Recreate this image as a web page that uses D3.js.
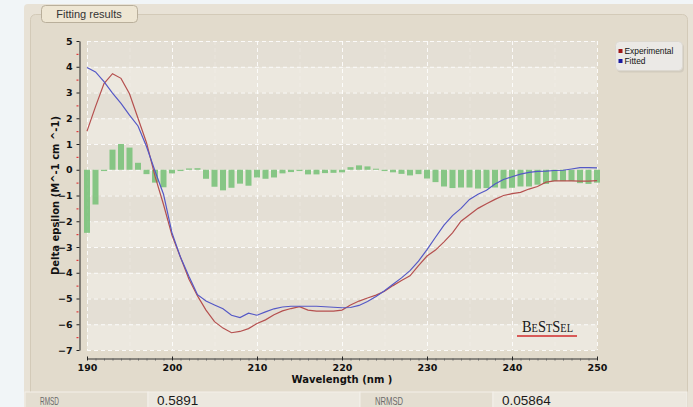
<!DOCTYPE html>
<html>
<head>
<meta charset="utf-8">
<script src="https://cdn.jsdelivr.net/npm/d3@7"></script>
<style>
  html, body { margin: 0; padding: 0; background: #f1f5f7; }
  svg { display: block; }
</style>
</head>
<body>
<svg id="chart" width="693" height="407"></svg>
<script>
// ---------- DATA ----------
const wavelengths = d3.range(190, 251); // 190..250 nm, 1 nm steps (axis categories)
const experimental = [
  1.5, 2.45, 3.35, 3.73, 3.55, 2.95, 2.0, 1.05, -0.25, -1.35,
  -2.55, -3.4, -4.25, -4.9, -5.45, -5.9, -6.15, -6.33, -6.28, -6.17,
  -5.97, -5.83, -5.63, -5.48, -5.39, -5.32, -5.45, -5.49, -5.49, -5.49,
  -5.45, -5.25, -5.1, -4.98, -4.87, -4.72, -4.5, -4.3, -4.12, -3.72,
  -3.35, -3.12, -2.8, -2.45, -2.0, -1.75, -1.5, -1.32, -1.15, -1.0,
  -0.93, -0.88, -0.75, -0.65, -0.48, -0.43, -0.43, -0.43, -0.44, -0.44,
  -0.42
];
const fitted = [
  3.97, 3.80, 3.42, 2.98, 2.58, 2.12, 1.7, 0.9, -0.05, -0.95,
  -2.45, -3.4, -4.15, -4.85, -5.1, -5.25, -5.4, -5.65, -5.74, -5.57,
  -5.65, -5.52, -5.4, -5.33, -5.3, -5.3, -5.3, -5.3, -5.32, -5.34,
  -5.36, -5.35, -5.27, -5.12, -4.92, -4.7, -4.45, -4.2, -3.92, -3.55,
  -3.1, -2.62, -2.15, -1.78, -1.5, -1.15, -0.95, -0.8, -0.55, -0.38,
  -0.27, -0.17, -0.1, -0.06, -0.05, -0.03, -0.02, 0.03, 0.08, 0.08,
  0.07
];
const residuals = [
  -2.45, -1.35, -0.05, 0.78, 1.0, 0.86, 0.27, -0.17, -0.5, -0.68,
  -0.14, -0.05, 0.05, 0.06, -0.35, -0.66, -0.8, -0.7, -0.54, -0.62,
  -0.3, -0.35, -0.3, -0.14, -0.09, -0.05, -0.18, -0.18, -0.13, -0.12,
  -0.1, 0.1, 0.17, 0.13, 0.04, -0.05, -0.1, -0.16, -0.22, -0.17,
  -0.34, -0.48, -0.65, -0.71, -0.69, -0.69, -0.73, -0.71, -0.69, -0.73,
  -0.7, -0.65, -0.65, -0.58, -0.55, -0.44, -0.44, -0.44, -0.52, -0.55,
  -0.5
];
const yTicks = [-7, -6, -5, -4, -3, -2, -1, 0, 1, 2, 3, 4, 5];
const yMinorTicks = [-6.5, -5.5, -4.5, -3.5, -2.5, -1.5, -0.5, 0.5, 1.5, 2.5, 3.5, 4.5];
const xTicks = [190, 200, 210, 220, 230, 240, 250];
const xMinorGrid = [195, 205, 215, 225, 235, 245];
const seriesNames = ["Experimental", "Fitted"];
const statLabels = ["RMSD", "NRMSD"];
const statValues = ["0.5891", "0.05864"];
const panelTitle = "Fitting results";
const xTitle = "Wavelength (nm )";
const yTitle = "Delta epsilon (M^-1 cm ^-1)";

// ---------- LAYOUT ----------
const svg = d3.select("#chart");
const W = 693, H = 407;
const plot = { left: 87, right: 597, top: 41, bottom: 350 };
const x = d3.scaleLinear().domain([190, 250]).range([plot.left, plot.right]);
const y = d3.scaleLinear().domain([-7, 5]).range([plot.bottom, plot.top]);
const colExp = "#b5504f", colFit = "#5458c6";

// background / panels
svg.append("rect").attr("width", W).attr("height", H).attr("fill", "#f1f5f7");
svg.append("rect").attr("x", 24).attr("y", 4).attr("width", 680).attr("height", 420)
  .attr("rx", 4).attr("fill", "#e8e2d6");
svg.append("rect").attr("x", 30.5).attr("y", 14.5).attr("width", 657).attr("height", 420)
  .attr("rx", 5).attr("fill", "#e2dbcc").attr("stroke", "#d3cab8");

// tab
svg.append("rect").attr("x", 41.5).attr("y", 5.5).attr("width", 96).attr("height", 17)
  .attr("rx", 4).attr("fill", "#eee6d3").attr("stroke", "#b9af9b");
svg.append("text").attr("x", 89).attr("y", 18).attr("text-anchor", "middle")
  .attr("font-family", "Liberation Sans, Arial, sans-serif").attr("font-size", 11)
  .attr("fill", "#333").text(panelTitle);

// plot stripes
const bands = yTicks.slice(0, -1);
svg.append("g").selectAll("rect").data(bands).join("rect")
  .attr("x", plot.left).attr("width", plot.right - plot.left)
  .attr("y", d => y(d + 1)).attr("height", d => y(d) - y(d + 1))
  .attr("fill", d => (Math.abs(d) % 2 === 0) ? "#e4dfd5" : "#ece8df");

// grid
const grid = svg.append("g").attr("stroke", "#ffffff").attr("stroke-dasharray", "4,3").attr("fill", "none");
grid.selectAll("line.h").data(yTicks).join("line").attr("class", "h")
  .attr("x1", plot.left).attr("x2", plot.right)
  .attr("y1", d => y(d) + 0.5).attr("y2", d => y(d) + 0.5).attr("stroke-opacity", 0.85);
grid.selectAll("line.v").data(xTicks).join("line").attr("class", "v")
  .attr("y1", plot.top).attr("y2", plot.bottom)
  .attr("x1", d => x(d) + 0.5).attr("x2", d => x(d) + 0.5).attr("stroke-opacity", 0.85);
grid.selectAll("line.vm").data(xMinorGrid).join("line").attr("class", "vm")
  .attr("y1", plot.top).attr("y2", plot.bottom)
  .attr("x1", d => x(d) + 0.5).attr("x2", d => x(d) + 0.5).attr("stroke-opacity", 0.22);

// residual bars
const barData = wavelengths.map((w, i) => ({ w, v: residuals[i] }));
svg.append("g").selectAll("rect").data(barData).join("rect")
  .attr("x", d => x(d.w) - 3).attr("width", 6)
  .attr("y", d => Math.min(y(0), y(d.v)))
  .attr("height", d => Math.max(1, Math.abs(y(d.v) - y(0))))
  .attr("fill", "#7bc27b").attr("fill-opacity", 0.9);

// lines
const line = d3.line().x(d => x(d[0])).y(d => y(d[1]));
svg.append("path").datum(wavelengths.map((w, i) => [w, experimental[i]]))
  .attr("d", line).attr("fill", "none").attr("stroke", colExp).attr("stroke-width", 1.2);
svg.append("path").datum(wavelengths.map((w, i) => [w, fitted[i]]))
  .attr("d", line).attr("fill", "none").attr("stroke", colFit).attr("stroke-width", 1.2);

// y axis
const yAxisX = 79.5;
const yAx = svg.append("g").attr("transform", `translate(${yAxisX},0)`)
  .call(d3.axisLeft(y).tickValues(yTicks).tickSize(3).tickPadding(4).tickSizeOuter(0).tickFormat(d3.format("d")));
yAx.select(".domain").attr("stroke", "#222");
yAx.selectAll(".tick line").attr("stroke", "#222");
yAx.selectAll("text").attr("font-family", "DejaVu Sans, sans-serif").attr("font-weight", "bold")
  .attr("font-size", 9.5).attr("fill", "#111");
svg.append("g").selectAll("line").data(yMinorTicks).join("line")
  .attr("x1", yAxisX - 3).attr("x2", yAxisX - 1)
  .attr("y1", d => y(d) + 0.5).attr("y2", d => y(d) + 0.5)
  .attr("stroke", "#e03a3a").attr("stroke-width", 1.2);

// x axis
const xAxisY = 358.5;
const xAx = svg.append("g").attr("transform", `translate(0,${xAxisY})`)
  .call(d3.axisBottom(x).tickValues(xTicks).tickSize(2).tickPadding(4).tickSizeOuter(0).tickFormat(d3.format("d")));
xAx.select(".domain").attr("stroke", "#333");
xAx.selectAll(".tick line").attr("y1", -2).attr("stroke", "#222");
xAx.selectAll("text").attr("font-family", "DejaVu Sans, sans-serif").attr("font-weight", "bold")
  .attr("font-size", 9.5).attr("fill", "#111");
svg.append("g").selectAll("line").data(wavelengths.filter(w => w % 10 !== 0)).join("line")
  .attr("x1", d => x(d) + 0.5).attr("x2", d => x(d) + 0.5)
  .attr("y1", xAxisY).attr("y2", xAxisY + 2).attr("stroke", "#666");

// axis titles
svg.append("text").attr("x", 342).attr("y", 382.5).attr("text-anchor", "middle")
  .attr("font-family", "DejaVu Sans, sans-serif").attr("font-weight", "bold").attr("font-size", 10)
  .attr("fill", "#111").text(xTitle);
svg.append("text").attr("transform", "translate(58.5,195.5) rotate(-90)").attr("text-anchor", "middle")
  .attr("font-family", "DejaVu Sans, sans-serif").attr("font-weight", "bold").attr("font-size", 10)
  .attr("fill", "#111").text(yTitle);

// legend
const lg = svg.append("g");
lg.append("rect").attr("x", 617).attr("y", 43.5).attr("width", 67).attr("height", 29).attr("rx", 4)
  .attr("fill", "#c8c2b6").attr("opacity", 0.6);
lg.append("rect").attr("x", 615.5).attr("y", 41.5).attr("width", 67).attr("height", 29).attr("rx", 4)
  .attr("fill", "#ebe9e6").attr("stroke", "#dcd8d0");
[colExp, colFit].forEach((c, i) => {
  lg.append("rect").attr("x", 618.5).attr("y", 49 + i * 10).attr("width", 4).attr("height", 4)
    .attr("fill", i === 0 ? "#a01818" : "#1a1aa0");
  lg.append("text").attr("x", 624.5).attr("y", 53.5 + i * 10)
    .attr("font-family", "Liberation Sans, Arial, sans-serif").attr("font-size", 8.4)
    .attr("fill", "#111").text(seriesNames[i]);
});

// BeStSel logo
const logo = svg.append("text").attr("x", 522).attr("y", 331.5)
  .attr("font-family", "Liberation Serif, DejaVu Serif, serif").attr("fill", "#1a1a1a")
  .attr("textLength", 51).attr("lengthAdjust", "spacingAndGlyphs");
[["B", 16], ["E", 11.5], ["S", 16], ["T", 11.5], ["S", 16], ["EL", 11.5]].forEach(([t, s]) => {
  logo.append("tspan").attr("font-size", s).text(t);
});
svg.append("line").attr("x1", 517).attr("x2", 577).attr("y1", 336).attr("y2", 336)
  .attr("stroke", "#d22b2b").attr("stroke-width", 1.6);

// stats row
const cells = [
  { x: 25, w: 123, fill: "#e4ded1", text: statLabels[0], label: true, len: 19 },
  { x: 148, w: 212, fill: "#ece8df", text: statValues[0], label: false },
  { x: 360, w: 133, fill: "#e4ded1", text: statLabels[1], label: true, len: 28 },
  { x: 493, w: 194, fill: "#ece8df", text: statValues[1], label: false }
];
const row = svg.append("g");
row.selectAll("rect").data(cells).join("rect")
  .attr("x", d => d.x).attr("y", 392).attr("width", d => d.w).attr("height", 20)
  .attr("fill", d => d.fill).attr("stroke", "#f3f0ea").attr("stroke-width", 1);
row.selectAll("text").data(cells).join("text")
  .attr("x", d => d.x + (d.label ? 15 : 9)).attr("y", d => d.label ? 405 : 405)
  .attr("font-family", "Liberation Sans, Arial, sans-serif")
  .attr("font-size", d => d.label ? 10.5 : 13.5)
  .attr("fill", d => d.label ? "#6b6b6b" : "#1a1a1a")
  .each(function (d) {
    if (d.label) d3.select(this).attr("textLength", d.len).attr("lengthAdjust", "spacingAndGlyphs");
  })
  .text(d => d.text);
</script>
</body>
</html>
